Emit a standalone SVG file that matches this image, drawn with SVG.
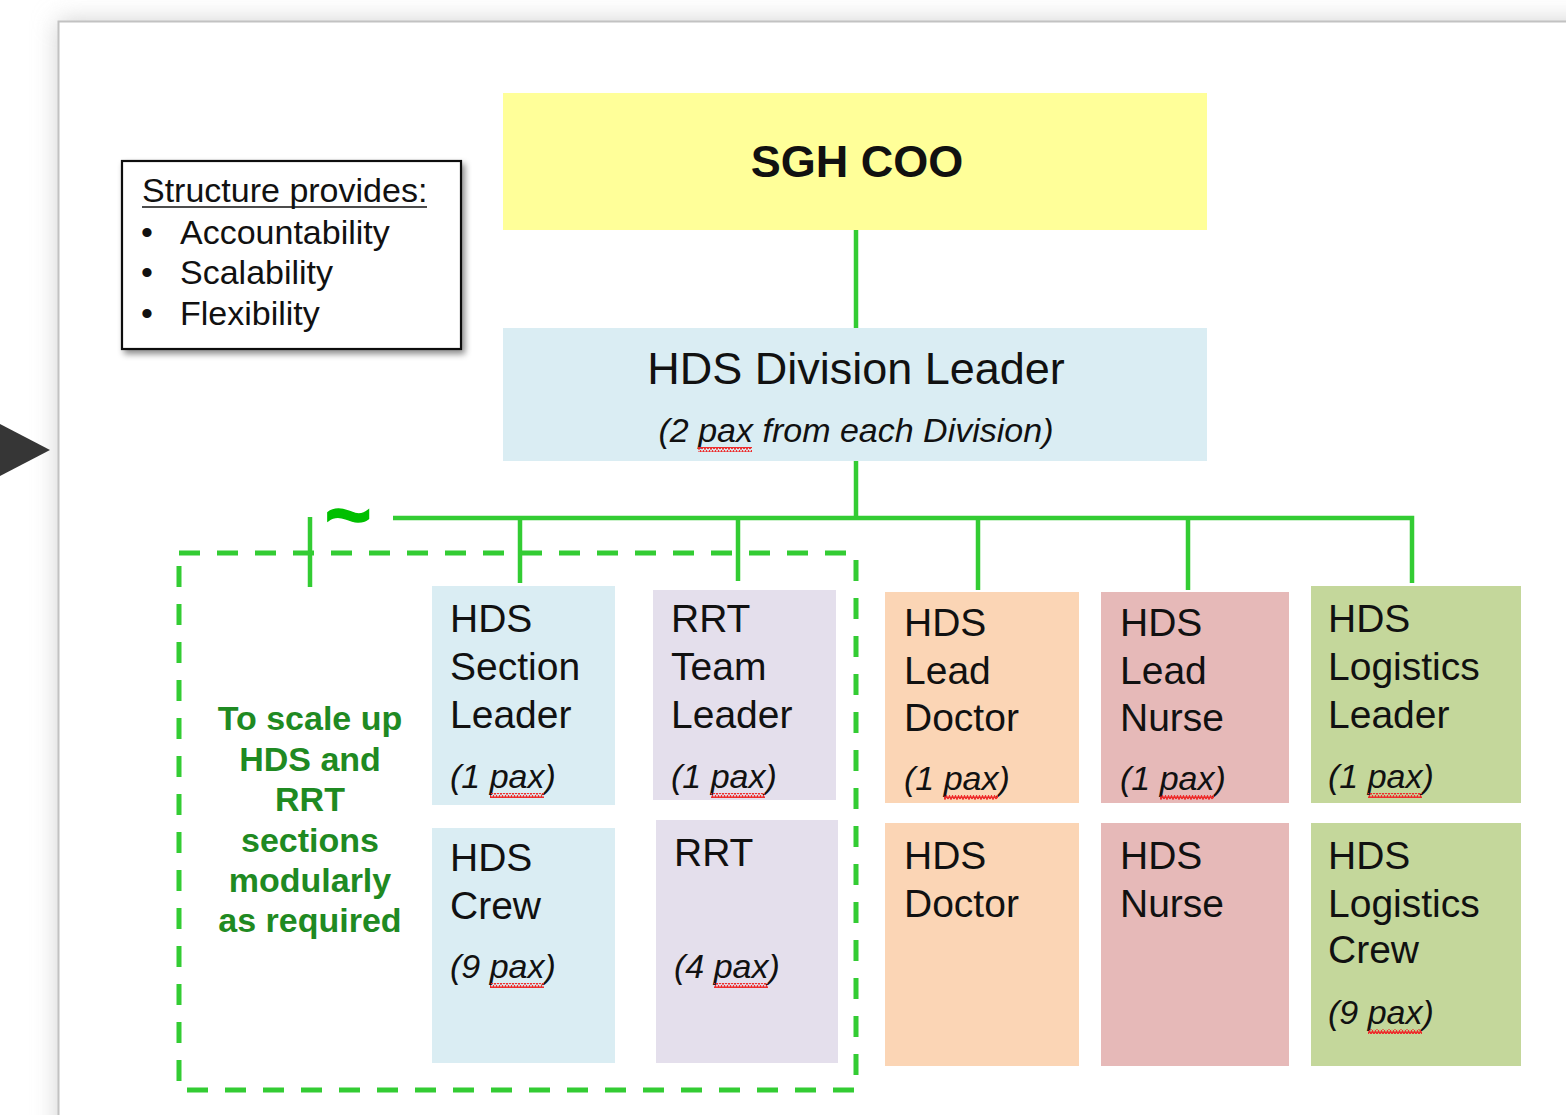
<svg xmlns="http://www.w3.org/2000/svg" width="1566" height="1115" viewBox="0 0 1566 1115">
  <defs>
    <filter id="pageShadow" x="-10%" y="-10%" width="120%" height="120%">
      <feGaussianBlur stdDeviation="12"/>
    </filter>
    <filter id="boxShadow" x="-10%" y="-10%" width="130%" height="130%">
      <feDropShadow dx="3" dy="4" stdDeviation="3" flood-color="#000" flood-opacity="0.45"/>
    </filter>
    <!-- red wavy underline used for spell-check marks -->
    <pattern id="wave" width="6" height="5" patternUnits="userSpaceOnUse">
      <path d="M0 4 L1.5 1 L3 4 L4.5 1 L6 4" fill="none" stroke="#ee2a2a" stroke-width="1.5"/>
    </pattern>
    <style>
      .lbl { font-family: "Liberation Sans", Arial, sans-serif; font-size: 39px; fill: #111; }
      .pax { font-family: "Liberation Sans", Arial, sans-serif; font-size: 34px; font-style: italic; fill: #111; }
      .legend { font-family: "Liberation Sans", Arial, sans-serif; font-size: 34px; fill: #111; }
      .note { font-family: "Liberation Sans", Arial, sans-serif; font-size: 34px; font-weight: bold; fill: #1f8a22; text-anchor: middle; }
      .link { fill: none; stroke: #33cc33; stroke-width: 4.5; }
      .dash { fill: none; stroke: #33cc33; stroke-width: 5; stroke-dasharray: 21 17; }
      .sq { fill: url(#wave); }
      .blue { fill: #daedf3; }
      .lav { fill: #e4dfec; }
      .peach { fill: #fbd5b5; }
      .pink { fill: #e6b9b8; }
      .olive { fill: #c4d79b; }
    </style>
  </defs>

  <!-- backdrop and slide page -->
  <rect width="1566" height="1115" fill="#ffffff"/>
  <rect x="58" y="21" width="1560" height="1150" fill="#cfcfcf" filter="url(#pageShadow)"/>
  <rect x="58.5" y="21.5" width="1560" height="1150" fill="#ffffff" stroke="#c2c2c2" stroke-width="2"/>

  <!-- side pointer -->
  <polygon id="pointer" points="0,424 50,450 0,476" fill="#363636"/>

  <!-- connectors -->
  <g id="connectors">
    <line class="link" x1="856" y1="230" x2="856" y2="328"/>
    <line class="link" x1="856" y1="461" x2="856" y2="518"/>
    <polyline class="link" points="393,518 1412,518 1412,583"/>
    <line class="link" x1="520" y1="518" x2="520" y2="583"/>
    <line class="link" x1="738" y1="518" x2="738" y2="581"/>
    <line class="link" x1="978" y1="518" x2="978" y2="590"/>
    <line class="link" x1="1188" y1="518" x2="1188" y2="590"/>
    <line class="link" x1="310" y1="517" x2="310" y2="587"/>
    <text x="348" y="542" font-family="Liberation Sans, Arial, sans-serif" font-size="80" font-weight="bold" fill="#00bf00" stroke="#00bf00" stroke-width="1.5" text-anchor="middle">~</text>
  </g>

  <!-- scalable module frame -->
  <g id="scale-group">
    <rect class="dash" x="179" y="553" width="677" height="537"/>
    <text class="note" x="310" y="730">To scale up</text>
    <text class="note" x="310" y="771">HDS and</text>
    <text class="note" x="310" y="811">RRT</text>
    <text class="note" x="310" y="852">sections</text>
    <text class="note" x="310" y="892">modularly</text>
    <text class="note" x="310" y="932">as required</text>
  </g>

  <!-- legend -->
  <g id="legend">
    <rect x="122" y="161" width="339" height="188" fill="#ffffff" stroke="#111" stroke-width="2.2" filter="url(#boxShadow)"/>
    <text class="legend" x="142" y="202">Structure provides:</text>
    <line x1="142" y1="207" x2="427" y2="207" stroke="#111" stroke-width="1.6"/>
    <text class="legend" x="141" y="244" font-size="28">•</text>
    <text class="legend" x="180" y="244">Accountability</text>
    <text class="legend" x="141" y="284" font-size="28">•</text>
    <text class="legend" x="180" y="284">Scalability</text>
    <text class="legend" x="141" y="325" font-size="28">•</text>
    <text class="legend" x="180" y="325">Flexibility</text>
  </g>

  <!-- top level -->
  <g id="sgh-coo">
    <rect x="503" y="93" width="704" height="137" fill="#ffff99"/>
    <text x="857" y="177" font-family="Liberation Sans, Arial, sans-serif" font-size="45" font-weight="bold" fill="#111" text-anchor="middle">SGH COO</text>
  </g>

  <g id="hds-division-leader">
    <rect x="503" y="328" width="704" height="133" class="blue"/>
    <text x="856" y="384" font-family="Liberation Sans, Arial, sans-serif" font-size="45" fill="#111" text-anchor="middle">HDS Division Leader</text>
    <text class="pax" x="856" y="442" text-anchor="middle">(2 pax from each Division)</text>
    <rect class="sq" x="698" y="447" width="54" height="5"/>
  </g>

  <!-- section leaders -->
  <g id="hds-section-leader">
    <rect x="432" y="586" width="183" height="219" class="blue"/>
    <text class="lbl" x="450" y="632">HDS</text>
    <text class="lbl" x="450" y="680">Section</text>
    <text class="lbl" x="450" y="728">Leader</text>
    <text class="pax" x="450" y="788">(1 pax)</text>
    <rect class="sq" x="490" y="793" width="54" height="5"/>
  </g>

  <g id="rrt-team-leader">
    <rect x="653" y="590" width="183" height="210" class="lav"/>
    <text class="lbl" x="671" y="632">RRT</text>
    <text class="lbl" x="671" y="680">Team</text>
    <text class="lbl" x="671" y="728">Leader</text>
    <text class="pax" x="671" y="788">(1 pax)</text>
    <rect class="sq" x="711" y="793" width="54" height="5"/>
  </g>

  <g id="hds-lead-doctor">
    <rect x="885" y="592" width="194" height="211" class="peach"/>
    <text class="lbl" x="904" y="636">HDS</text>
    <text class="lbl" x="904" y="684">Lead</text>
    <text class="lbl" x="904" y="731">Doctor</text>
    <text class="pax" x="904" y="790">(1 pax)</text>
    <rect class="sq" x="944" y="795" width="54" height="5"/>
  </g>

  <g id="hds-lead-nurse">
    <rect x="1101" y="592" width="188" height="211" class="pink"/>
    <text class="lbl" x="1120" y="636">HDS</text>
    <text class="lbl" x="1120" y="684">Lead</text>
    <text class="lbl" x="1120" y="731">Nurse</text>
    <text class="pax" x="1120" y="790">(1 pax)</text>
    <rect class="sq" x="1160" y="795" width="54" height="5"/>
  </g>

  <g id="hds-logistics-leader">
    <rect x="1311" y="586" width="210" height="217" class="olive"/>
    <text class="lbl" x="1328" y="632">HDS</text>
    <text class="lbl" x="1328" y="680">Logistics</text>
    <text class="lbl" x="1328" y="728">Leader</text>
    <text class="pax" x="1328" y="788">(1 pax)</text>
    <rect class="sq" x="1368" y="793" width="54" height="5"/>
  </g>

  <!-- teams -->
  <g id="hds-crew">
    <rect x="432" y="828" width="183" height="235" class="blue"/>
    <text class="lbl" x="450" y="871">HDS</text>
    <text class="lbl" x="450" y="919">Crew</text>
    <text class="pax" x="450" y="978">(9 pax)</text>
    <rect class="sq" x="490" y="983" width="54" height="5"/>
  </g>

  <g id="rrt">
    <rect x="656" y="820" width="182" height="243" class="lav"/>
    <text class="lbl" x="674" y="866">RRT</text>
    <text class="pax" x="674" y="978">(4 pax)</text>
    <rect class="sq" x="714" y="983" width="54" height="5"/>
  </g>

  <g id="hds-doctor">
    <rect x="885" y="823" width="194" height="243" class="peach"/>
    <text class="lbl" x="904" y="869">HDS</text>
    <text class="lbl" x="904" y="917">Doctor</text>
  </g>

  <g id="hds-nurse">
    <rect x="1101" y="823" width="188" height="243" class="pink"/>
    <text class="lbl" x="1120" y="869">HDS</text>
    <text class="lbl" x="1120" y="917">Nurse</text>
  </g>

  <g id="hds-logistics-crew">
    <rect x="1311" y="823" width="210" height="243" class="olive"/>
    <text class="lbl" x="1328" y="869">HDS</text>
    <text class="lbl" x="1328" y="917">Logistics</text>
    <text class="lbl" x="1328" y="963">Crew</text>
    <text class="pax" x="1328" y="1024">(9 pax)</text>
    <rect class="sq" x="1368" y="1029" width="54" height="5"/>
  </g>
</svg>
